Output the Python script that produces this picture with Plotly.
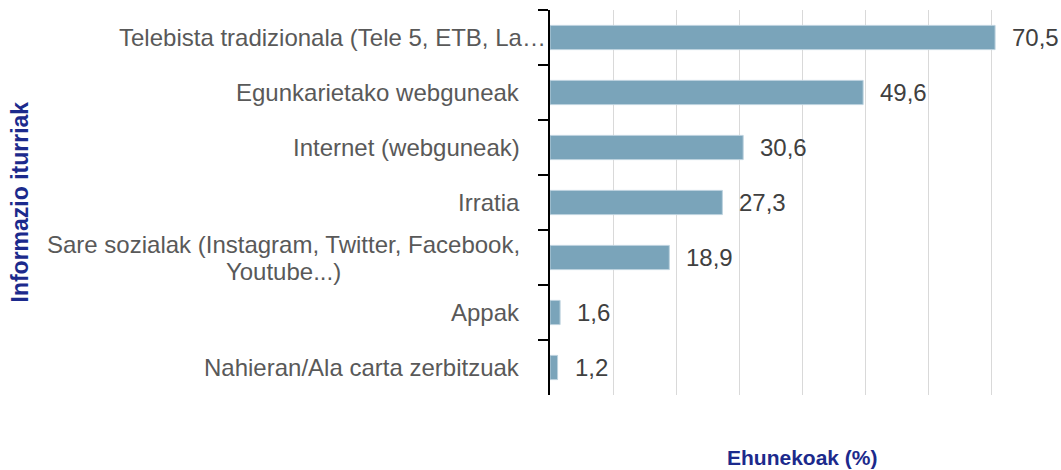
import plotly.graph_objects as go

categories = [
    "Telebista tradizionala (Tele 5, ETB, La…",
    "Egunkarietako webguneak",
    "Internet (webguneak)",
    "Irratia",
    "Sare sozialak (Instagram, Twitter, Facebook,<br>Youtube...)",
    "Appak",
    "Nahieran/Ala carta zerbitzuak",
]
values = [70.5, 49.6, 30.6, 27.3, 18.9, 1.6, 1.2]
x_ticks = [0, 10, 20, 30, 40, 50, 60, 70, 80]
x_title = "Ehunekoak (%)"
y_title = "Informazio iturriak"

FONT = "Liberation Sans, Arial, sans-serif"
BAR_COLOR = "#7aa4ba"
TITLE_COLOR = "#1c2a8c"
LABEL_SIZE = 24

fig = go.Figure()
fig.add_trace(go.Bar(
    x=values,
    y=categories,
    orientation="h",
    width=0.44,
    marker=dict(color=BAR_COLOR, line=dict(color="#bcd2de", width=1)),
    hoverinfo="x+y",
    showlegend=False,
))


def styled(label):
    # keep font at LABEL_SIZE while the line spacing follows a smaller base size
    return "<br>".join(
        f'<span style="font-size:{LABEL_SIZE}px">{part}</span>' for part in label.split("<br>")
    )


annotations = []
for cat in categories:
    truncated = cat.endswith("…")
    annotations.append(dict(
        x=0, xref="paper", y=cat, yref="y",
        text=styled(cat), showarrow=False,
        xanchor="right", yanchor="middle", align="center",
        xshift=-2 if truncated else -28,
        font=dict(family=FONT, size=21, color="#595959"),
    ))
for cat, v in zip(categories, values):
    annotations.append(dict(
        x=v, xref="x", y=cat, yref="y",
        text=f"{v:.1f}".replace(".", ","), showarrow=False,
        xanchor="left", yanchor="middle", xshift=15,
        font=dict(family=FONT, size=LABEL_SIZE, color="#404040"),
    ))
annotations.append(dict(
    x=0, xref="paper", xshift=252, y=0, yref="paper", yshift=-62,
    text=f"<b>{x_title}</b>", showarrow=False,
    xanchor="center", yanchor="middle",
    font=dict(family=FONT, size=21, color=TITLE_COLOR),
))
annotations.append(dict(
    x=0, xref="paper", xshift=-531, y=0.5, yref="paper",
    text=f"<b>{y_title}</b>", showarrow=False, textangle=-90,
    xanchor="center", yanchor="middle",
    font=dict(family=FONT, size=23, color=TITLE_COLOR),
))

fig.update_layout(
    width=1061, height=470,
    margin=dict(l=550, r=5, t=10, b=75),
    paper_bgcolor="white", plot_bgcolor="white",
    font=dict(family=FONT, size=LABEL_SIZE, color="#595959"),
    annotations=annotations,
)
fig.update_xaxes(
    range=[0, 80.15], tickvals=x_ticks, showticklabels=False,
    showgrid=True, gridcolor="#d9d9d9", gridwidth=1,
    zeroline=False, showline=False, ticks="",
)
fig.update_yaxes(
    type="category", categoryorder="array", categoryarray=categories,
    autorange="reversed", showticklabels=False,
    ticks="outside", tickson="boundaries", ticklen=10, tickwidth=2, tickcolor="black",
    showline=True, linewidth=2, linecolor="black", showgrid=False,
)

fig.write_html(
    "out.html",
    config={"displayModeBar": False},
    post_script="document.body.style.margin='0';document.body.style.overflow='hidden';",
)
